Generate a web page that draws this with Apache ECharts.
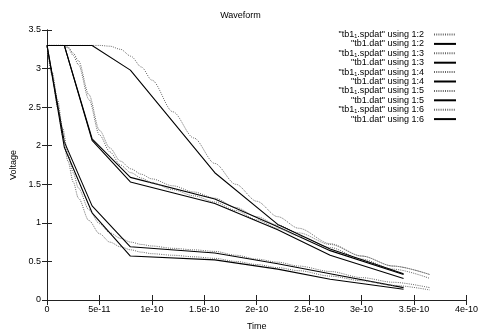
<!DOCTYPE html>
<html>
<head>
<meta charset="utf-8">
<script src="https://cdn.jsdelivr.net/npm/echarts@6/dist/echarts.min.js"></script>
<style>
  html, body { margin: 0; padding: 0; background: #fff; }
  #chart { width: 481px; height: 336px; }
</style>
</head>
<body>
<div id="chart"></div>
<script>
// tick labels
var xTickLabels = ['0', '5e-11', '1e-10', '1.5e-10', '2e-10', '2.5e-10', '3e-10', '3.5e-10', '4e-10'];
var yTickLabels = ['0', '0.5', '1', '1.5', '2', '2.5', '3', '3.5'];

// tb1.dat - piecewise (coarse time points, seconds)
var datTime = [0, 1.65e-11, 4.3e-11, 7.95e-11, 1.6e-10, 2.2e-10, 2.7e-10, 3.4e-10];
var dat12 = [3.3, 2.05, 1.22, 0.69, 0.61, 0.47, 0.34, 0.16];
var dat13 = [3.3, 1.98, 1.13, 0.57, 0.52, 0.40, 0.27, 0.14];
var dat14 = [3.3, 3.3, 2.09, 1.59, 1.31, 0.95, 0.64, 0.33];
var dat15 = [3.3, 3.3, 2.07, 1.53, 1.25, 0.91, 0.58, 0.28];
var dat16 = [3.3, 3.3, 3.3, 2.98, 1.65, 0.98, 0.66, 0.34];

// tb1_1.spdat - fine time points (seconds)
var spTime = [0, 5e-12, 1e-11, 1.5e-11, 2e-11, 2.5e-11, 3e-11, 4e-11, 5e-11, 6e-11, 7e-11, 8e-11, 9e-11,
  1e-10, 1.2e-10, 1.4e-10, 1.6e-10, 1.8e-10, 2e-10, 2.2e-10, 2.4e-10, 2.7e-10, 3e-10, 3.3e-10, 3.65e-10];
var sp12 = [3.3, 2.95, 2.6, 2.22, 1.9, 1.65, 1.45, 1.17, 0.99, 0.87, 0.8, 0.75, 0.72,
  0.7, 0.67, 0.65, 0.63, 0.58, 0.53, 0.49, 0.44, 0.37, 0.29, 0.23, 0.16];
var sp13 = [3.3, 2.9, 2.5, 2.12, 1.8, 1.53, 1.32, 1.03, 0.86, 0.75, 0.69, 0.65, 0.62,
  0.6, 0.58, 0.56, 0.54, 0.5, 0.46, 0.42, 0.38, 0.31, 0.25, 0.19, 0.13];
var sp14 = [3.3, 3.3, 3.3, 3.3, 3.28, 3.2, 3.1, 2.66, 2.2, 1.97, 1.8, 1.7, 1.63,
  1.57, 1.48, 1.4, 1.32, 1.2, 1.08, 0.97, 0.87, 0.72, 0.57, 0.44, 0.33];
var sp15 = [3.3, 3.3, 3.3, 3.3, 3.27, 3.17, 3.05, 2.6, 2.14, 1.92, 1.75, 1.65, 1.58,
  1.52, 1.43, 1.35, 1.27, 1.16, 1.04, 0.93, 0.83, 0.68, 0.53, 0.4, 0.28];
var sp16 = [3.3, 3.3, 3.3, 3.3, 3.3, 3.3, 3.3, 3.3, 3.3, 3.29, 3.25, 3.16, 3.02,
  2.85, 2.44, 2.1, 1.77, 1.5, 1.28, 1.08, 0.93, 0.73, 0.57, 0.44, 0.33];

var columns = ['1:2', '1:3', '1:4', '1:5', '1:6'];
var spValues = [sp12, sp13, sp14, sp15, sp16];
var datValues = [dat12, dat13, dat14, dat15, dat16];

function pairs(t, v) {
  var out = [];
  for (var i = 0; i < t.length; i++) out.push([t[i], v[i]]);
  return out;
}

var font = 'Liberation Sans, Arial, sans-serif';
var series = [];
var names = [];
for (var i = 0; i < columns.length; i++) {
  var spName = '"tb1\u2081.spdat" using ' + columns[i];
  var datName = '"tb1.dat" using ' + columns[i];
  names.push(spName, datName);
  series.push({
    name: spName, type: 'line', data: pairs(spTime, spValues[i]),
    symbol: 'none', smooth: 0.3, smoothMonotone: 'x', animation: false,
    color: '#666',
    lineStyle: { color: '#666', width: 1, type: [1, 1.2] }
  });
  series.push({
    name: datName, type: 'line', data: pairs(datTime, datValues[i]),
    symbol: 'none', animation: false,
    color: '#000',
    lineStyle: { color: '#000', width: 1.1 }
  });
}

var axisCommon = {
  axisLine: { lineStyle: { color: '#222', width: 1 } },
  axisTick: { inside: true, length: 5, lineStyle: { color: '#222' } },
  splitLine: { show: false }
};

var chart = echarts.init(document.getElementById('chart'));
chart.setOption({
  backgroundColor: '#fff',
  animation: false,
  title: {
    text: 'Waveform', left: 'center', top: 6,
    textStyle: { fontSize: 9, fontWeight: 'normal', color: '#000', fontFamily: font }
  },
  grid: { left: 47, right: 13, top: 30, bottom: 28 },
  legend: {
    data: names, orient: 'vertical', right: 24, top: 30, padding: 0,
    align: 'right', itemWidth: 22, itemHeight: 9, itemGap: 0.4,
    itemStyle: { opacity: 0 },
    textStyle: { fontSize: 9, color: '#000', fontFamily: font, padding: [0, 5, 0, 0] }
  },
  xAxis: [
    Object.assign({
      type: 'value', min: 0, max: 4e-10, interval: 5e-11,
      name: 'Time', nameLocation: 'middle', nameGap: 22,
      nameTextStyle: { fontSize: 9, color: '#000', fontFamily: font },
      axisLabel: {
        fontSize: 9, color: '#000', fontFamily: font, margin: 5,
        formatter: function (v) { return xTickLabels[Math.round(v / 5e-11)]; }
      }
    }, axisCommon),
    Object.assign({
      type: 'value', position: 'top', min: 0, max: 4e-10, interval: 5e-11,
      axisLabel: { show: false }
    }, axisCommon)
  ],
  yAxis: [
    Object.assign({
      type: 'value', min: 0, max: 3.5, interval: 0.5,
      name: 'Voltage', nameLocation: 'middle', nameGap: 28, nameRotate: 90,
      nameTextStyle: { fontSize: 9, color: '#000', fontFamily: font },
      axisLabel: {
        fontSize: 9, color: '#000', fontFamily: font, margin: 6,
        formatter: function (v) { return yTickLabels[Math.round(v / 0.5)]; }
      }
    }, axisCommon),
    Object.assign({
      type: 'value', position: 'right', min: 0, max: 3.5, interval: 0.5,
      axisLabel: { show: false }
    }, axisCommon)
  ],
  series: series
});
</script>
</body>
</html>
